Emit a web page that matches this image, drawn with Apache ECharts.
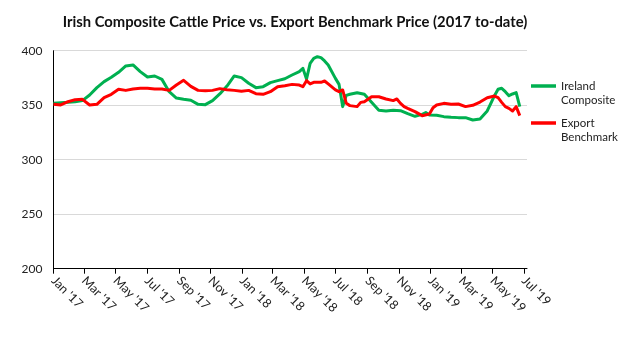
<!DOCTYPE html>
<html>
<head>
<meta charset="utf-8">
<script src="https://cdn.jsdelivr.net/npm/echarts@6/dist/echarts.min.js"></script>
<style>html,body{margin:0;padding:0;background:#fff}#c{width:635px;height:337px}</style>
</head>
<body>
<div id="c"></div>
<script>
const titleText = "Irish Composite Cattle Price vs. Export Benchmark Price (2017 to-date)";
const seriesNames = ["Ireland\nComposite", "Export\nBenchmark"];

const irelandDates = ["2017-01-01","2017-01-15","2017-01-29","2017-02-12","2017-02-26","2017-03-12","2017-03-26","2017-04-09","2017-04-23","2017-05-07","2017-05-21","2017-06-04","2017-06-18","2017-07-02","2017-07-16","2017-07-30","2017-08-13","2017-08-27","2017-09-10","2017-09-24","2017-10-08","2017-10-22","2017-11-05","2017-11-19","2017-12-03","2017-12-17","2017-12-31","2018-01-14","2018-01-28","2018-02-11","2018-02-25","2018-03-11","2018-03-25","2018-04-08","2018-04-22","2018-04-29","2018-05-06","2018-05-13","2018-05-20","2018-05-27","2018-06-03","2018-06-10","2018-06-17","2018-07-01","2018-07-08","2018-07-15","2018-07-22","2018-07-29","2018-08-12","2018-08-26","2018-09-09","2018-09-23","2018-10-07","2018-10-21","2018-11-04","2018-11-18","2018-12-02","2018-12-16","2018-12-23","2018-12-30","2019-01-13","2019-01-27","2019-02-10","2019-02-24","2019-03-10","2019-03-24","2019-04-07","2019-04-21","2019-04-28","2019-05-05","2019-05-12","2019-05-19","2019-05-26","2019-06-02","2019-06-09","2019-06-16","2019-06-23"];
const irelandValues = [351.7,352.3,352.6,353.2,354.2,359.4,366.1,371.6,375.6,380.2,386.0,386.9,380.8,375.9,376.8,373.7,362.4,356.6,355.4,354.5,350.8,350.5,354.2,360.3,367.6,376.8,375.3,370.1,366.1,367.0,370.7,372.5,374.3,377.7,380.8,383.8,374.0,388.4,393.0,394.5,393.6,390.6,386.9,374.6,369.1,348.7,359.0,360.0,361.5,360.0,352.6,345.3,344.7,345.3,345.0,342.2,339.8,341.6,343.2,341.0,340.7,339.5,338.9,338.6,338.6,336.4,337.3,344.7,351.7,358.7,364.6,365.5,362.4,358.7,360.3,361.5,348.7];

const exportDates = ["2017-01-01","2017-01-15","2017-01-29","2017-02-12","2017-02-26","2017-03-12","2017-03-26","2017-04-09","2017-04-23","2017-05-07","2017-05-21","2017-06-04","2017-06-18","2017-07-02","2017-07-16","2017-07-30","2017-08-13","2017-08-27","2017-09-10","2017-09-24","2017-10-08","2017-10-22","2017-11-05","2017-11-19","2017-12-03","2017-12-17","2017-12-31","2018-01-14","2018-01-28","2018-02-11","2018-02-25","2018-03-11","2018-03-25","2018-04-08","2018-04-22","2018-04-29","2018-05-06","2018-05-13","2018-05-20","2018-06-03","2018-06-10","2018-06-17","2018-07-01","2018-07-08","2018-07-15","2018-07-22","2018-07-29","2018-08-12","2018-08-19","2018-08-26","2018-09-09","2018-09-23","2018-10-07","2018-10-21","2018-10-28","2018-11-04","2018-11-11","2018-11-18","2018-12-02","2018-12-16","2018-12-30","2019-01-06","2019-01-13","2019-01-27","2019-02-10","2019-02-24","2019-03-10","2019-03-24","2019-04-07","2019-04-21","2019-05-05","2019-05-12","2019-05-19","2019-05-26","2019-06-02","2019-06-09","2019-06-16","2019-06-23"];
const exportValues = [350.8,350.2,353.2,355.1,355.4,350.2,350.8,356.9,360.0,364.6,363.6,364.9,365.5,365.5,364.9,364.9,363.6,368.5,372.8,367.3,363.6,363.3,363.6,365.2,364.2,363.6,362.7,363.6,360.6,360.0,362.4,367.0,367.9,369.1,368.5,367.0,372.5,369.5,371.0,371.0,372.2,369.5,364.0,362.4,364.0,351.7,349.6,348.7,352.6,353.2,357.8,357.8,355.7,354.2,355.7,351.7,348.7,347.1,344.1,340.4,341.9,347.7,350.2,351.7,350.8,351.1,348.7,349.9,352.9,356.9,358.4,356.9,352.6,348.7,347.1,344.7,348.7,340.4];

const tickDates = ["2017-01-01","2017-03-01","2017-05-01","2017-07-01","2017-09-01","2017-11-01","2018-01-01","2018-03-01","2018-05-01","2018-07-01","2018-09-01","2018-11-01","2019-01-01","2019-03-01","2019-05-01","2019-07-01"];
const tickLabels = ["Jan '17","Mar '17","May '17","Jul '17","Sep '17","Nov '17","Jan '18","Mar '18","May '18","Jul '18","Sep '18","Nov '18","Jan '19","Mar '19","May '19","Jul '19"];
const axisStart = "2017-01-01";
const axisEnd = "2019-07-07";
const yMin = 200, yMax = 400, yStep = 50;

// days since axisStart (UTC based, no DST effects)
function dayNum(s){ const p = s.split('-').map(Number); return Math.round(Date.UTC(p[0], p[1]-1, p[2]) / 86400000); }
const base = dayNum(axisStart);
function dx(s){ return dayNum(s) - base; }
const tickPos = tickDates.map(dx);
function pairs(d, v){ return d.map((x,i)=>[dx(x), v[i]]); }

const FONT = 'Lato, "Liberation Sans", sans-serif';
const chart = echarts.init(document.getElementById('c'), null, {renderer:'canvas'});
const legendText = {fontFamily: FONT, fontSize: 11.5, color: '#222', lineHeight: 14};
function legendFmt(name){ return ' \n' + name; }
chart.setOption({
  animation: false,
  backgroundColor: '#fff',
  title: {
    text: titleText, left: 290, top: 10, textAlign: 'center',
    textStyle: {fontFamily: FONT, fontWeight: 'bold', fontSize: 14.8, color: '#111'}
  },
  legend: [
    {data: [seriesNames[0]], left: 531, top: 65, padding: 0, orient: 'vertical', icon: 'rect', itemWidth: 25, itemHeight: 3.5, textStyle: legendText, formatter: legendFmt, selectedMode: false},
    {data: [seriesNames[1]], left: 531, top: 102, padding: 0, orient: 'vertical', icon: 'rect', itemWidth: 25, itemHeight: 3.5, textStyle: legendText, formatter: legendFmt, selectedMode: false}
  ],
  grid: {left: 53.5, right: 108, top: 50.7, bottom: 68.3, outerBoundsMode: 'none', containLabel: false},
  xAxis: {
    type: 'value', min: 0, max: dx(axisEnd),
    axisLine: {show: true, onZero: false, lineStyle: {color: '#000', width: 1}},
    axisTick: {show: true, length: 5, lineStyle: {color: '#000'}, customValues: tickPos},
    axisLabel: {
      customValues: tickPos, rotate: -45, margin: 10,
      fontFamily: FONT, fontSize: 12.5, color: '#222',
      formatter: function(v){ const i = tickPos.indexOf(Math.round(v)); return i >= 0 ? tickLabels[i] : ''; }
    },
    splitLine: {show: false}
  },
  yAxis: {
    type: 'value', min: yMin, max: yMax, interval: yStep,
    axisLine: {show: true, onZero: false, lineStyle: {color: '#000', width: 1}},
    axisTick: {show: false},
    axisLabel: {fontFamily: FONT, fontSize: 12, color: '#222', margin: 11},
    splitLine: {lineStyle: {color: '#d9d9d9', width: 1}}
  },
  series: [
    {name: seriesNames[0], type: 'line', data: pairs(irelandDates, irelandValues), showSymbol: false, symbol: 'none',
     color: '#00B050', lineStyle: {color: '#00B050', width: 3, join: 'round'}, z: 3},
    {name: seriesNames[1], type: 'line', data: pairs(exportDates, exportValues), showSymbol: false, symbol: 'none',
     color: '#FF0000', lineStyle: {color: '#FF0000', width: 3, join: 'round'}, z: 4}
  ]
});
</script>
</body>
</html>
